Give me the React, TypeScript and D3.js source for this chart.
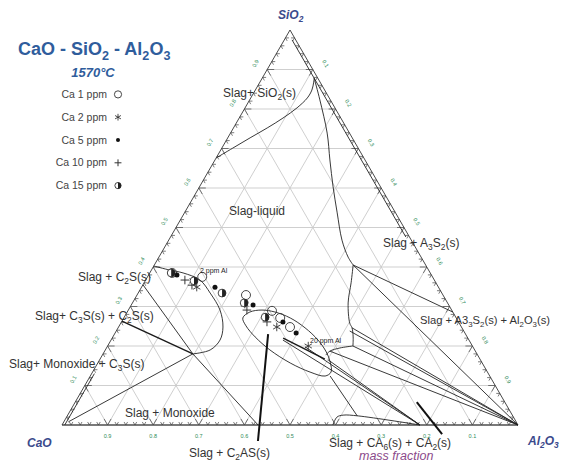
import React from 'react';
import * as d3 from 'd3';

// every composition is [Al2O3, SiO2] mass fraction, CaO = 1 - Al2O3 - SiO2
type P = [number, number];

const tickFractions = [0.1, 0.2, 0.3, 0.4, 0.5, 0.6, 0.7, 0.8, 0.9];
const legendLabels = ['Ca 1 ppm', 'Ca 2 ppm', 'Ca 5 ppm', 'Ca 10 ppm', 'Ca 15 ppm'];

// measured compositions (Ca content of the slag)
const ca1ppm: P[] = [[0.049, 0.385], [0.12, 0.375], [0.239, 0.329], [0.316, 0.289], [0.343, 0.271], [0.376, 0.248]];
const ca2ppm: P[] = [[0.105, 0.365], [0.121, 0.349], [0.248, 0.306], [0.347, 0.248], [0.44, 0.2]];
const ca5ppm: P[] = [[0.062, 0.38], [0.161, 0.349], [0.267, 0.304], [0.354, 0.261], [0.397, 0.233]];
const ca10ppm: P[] = [[0.086, 0.367], [0.108, 0.354], [0.26, 0.291], [0.319, 0.261]];
const ca15ppm: P[] = [[0.047, 0.385], [0.107, 0.365], [0.184, 0.334], [0.245, 0.309], [0.309, 0.273]];

// phase boundaries at 1570 C
const silicaLiquidus: P[] = [[0, 0.676], [0.024, 0.701], [0.049, 0.727], [0.074, 0.752], [0.096, 0.777], [0.114, 0.803], [0.124, 0.828], [0.124, 0.848], [0.118, 0.868], [0.114, 0.878]];
const silicaEdgeLine: P[] = [[0.017, 0.975], [0.516, 0.476]];
const mulliteLiquidus: P[] = [[0.114, 0.878], [0.154, 0.823], [0.212, 0.739], [0.252, 0.671], [0.293, 0.603], [0.335, 0.537], [0.38, 0.468], [0.415, 0.425], [0.436, 0.405]];
const aluminaLiquidus: P[] = [[0.436, 0.405], [0.454, 0.36], [0.473, 0.309], [0.502, 0.258], [0.513, 0.246], [0.527, 0.223], [0.538, 0.2]];
const hexaluminateBump: P[] = [[0.538, 0.2], [0.512, 0.195], [0.494, 0.187], [0.49, 0.177]];
const gehleniteLoop: P[] = [[0.261, 0.271], [0.269, 0.286], [0.293, 0.291], [0.324, 0.286], [0.365, 0.271], [0.41, 0.246], [0.454, 0.215], [0.487, 0.185], [0.508, 0.16], [0.523, 0.134], [0.515, 0.124], [0.477, 0.134], [0.422, 0.157], [0.361, 0.19], [0.312, 0.223], [0.278, 0.251]];
const dicalciumLiquidus: P[] = [[0, 0.4025], [0.041, 0.392], [0.073, 0.385], [0.119, 0.367], [0.158, 0.334], [0.201, 0.291], [0.229, 0.248], [0.239, 0.215], [0.23, 0.19], [0.197, 0.18]];
const ca2Pocket: P[] = [[0.594, 0], [0.593, 0.02], [0.604, 0.025], [0.638, 0.023], [0.785, 0]];
const limeEdgeLine: P[] = [[0.006, 0], [0.006, 0.13]];

const tieLines: P[][] = [
  [[0.436, 0.405], [0.714, 0.286]],
  [[0.436, 0.405], [1, 0]],
  [[0.513, 0.246], [1, 0]],
  [[0.512, 0.238], [1, 0]],
  [[0.538, 0.2], [1, 0]],
  [[0.494, 0.187], [1, 0]],
  [[0.377, 0.215], [0.785, 0]],
  [[0.434, 0.198], [0.785, 0]],
  [[0.501, 0.165], [0.785, 0]],
  [[0.526, 0.124], [0.636, 0.023]],
  [[0, 0.355], [0.197, 0.18]],
  [[0.197, 0.18], [0.01, 0.008]],
  [[0.197, 0.18], [0.43, 0]],
];
const mediumLines: P[][] = [
  [[0, 0.263], [0.197, 0.18]],
  [[0.375, 0.22], [0.493, 0.167]],
];
const leaderLines: P[][] = [
  [[0.337, 0.23], [0.45, -0.0405]],
  [[0.749, 0.058], [0.845, -0.023]],
];

const xs = d3.scaleLinear().domain([0, 1]).range([62, 518]);
const ys = d3.scaleLinear().domain([0, 1]).range([425, 30]);
const px = (p: P): [number, number] => [xs(p[0] + p[1] / 2), ys(p[1])];

const straight = d3.line<P>().x(d => px(d)[0]).y(d => px(d)[1]);
const smooth = d3.line<P>().x(d => px(d)[0]).y(d => px(d)[1]).curve(d3.curveCatmullRom);
const loop = d3.line<P>().x(d => px(d)[0]).y(d => px(d)[1]).curve(d3.curveCatmullRomClosed);

const FONT = '"Liberation Sans", Arial, sans-serif';

// "_x" -> x as subscript
function rich(str: string, fs: number) {
  const segs: { t: string; sub: boolean }[] = [];
  for (let i = 0; i < str.length; i++) {
    if (str[i] === '_') { segs.push({ t: str[i + 1], sub: true }); i++; }
    else {
      const last = segs[segs.length - 1];
      if (last && !last.sub) last.t += str[i];
      else segs.push({ t: str[i], sub: false });
    }
  }
  let shifted = false;
  return segs.map((s, k) => {
    const dy = s.sub ? (shifted ? 0 : fs * 0.28) : (shifted ? -fs * 0.28 : 0);
    shifted = s.sub;
    return <tspan key={k} dy={dy} fontSize={s.sub ? fs * 0.7 : fs}>{s.t}</tspan>;
  });
}

function Marker({ kind, x, y, small }: { kind: number; x: number; y: number; small?: boolean }) {
  const k = small ? 0.8 : 1;
  if (kind === 0) return <circle cx={x} cy={y} r={4.5 * k} fill="none" stroke="#333" strokeWidth={0.9} />;
  if (kind === 1) {
    const r = 4.2 * k;
    return (
      <g stroke="#333" strokeWidth={0.9}>
        {[90, 30, 150].map(a => {
          const dx = r * Math.cos((a * Math.PI) / 180), dy = r * Math.sin((a * Math.PI) / 180);
          return <line key={a} x1={x - dx} y1={y - dy} x2={x + dx} y2={y + dy} />;
        })}
      </g>
    );
  }
  if (kind === 2) return <circle cx={x} cy={y} r={2.5 * k} fill="#111" />;
  if (kind === 3) {
    const r = 4.3 * k;
    return (
      <g stroke="#333" strokeWidth={1}>
        <line x1={x - r} y1={y} x2={x + r} y2={y} />
        <line x1={x} y1={y - r} x2={x} y2={y + r} />
      </g>
    );
  }
  const r = 3.9 * k;
  return (
    <g>
      <circle cx={x} cy={y} r={r} fill="white" stroke="#333" strokeWidth={0.9} />
      <path d={`M${x},${y - r}A${r},${r} 0 0 1 ${x},${y + r}Z`} fill="#222" />
    </g>
  );
}

const phaseLabels = [
  { t: 'Slag+ SiO_2(s)', x: 223, y: 97, fs: 12 },
  { t: 'Slag-liquid', x: 229, y: 215, fs: 12 },
  { t: 'Slag + A_3S_2(s)', x: 383, y: 247, fs: 12 },
  { t: 'Slag + C_2S(s)', x: 78, y: 281, fs: 12 },
  { t: 'Slag+ C_3S(s) + C_2S(s)', x: 35, y: 320, fs: 12 },
  { t: 'Slag + A3_3S_2(s) + Al_2O_3(s)', x: 420, y: 324, fs: 11.2 },
  { t: 'Slag+ Monoxide + C_3S(s)', x: 9, y: 368, fs: 12 },
  { t: 'Slag + Monoxide', x: 125, y: 417, fs: 12 },
  { t: 'Slag + C_2AS(s)', x: 189, y: 457, fs: 12 },
  { t: 'Slag + CA_6(s) + CA_2(s)', x: 329, y: 447, fs: 12 },
];

export default function App() {
  const series = [ca1ppm, ca2ppm, ca5ppm, ca10ppm, ca15ppm];

  const grid: P[][] = [];
  tickFractions.forEach(v => {
    grid.push([[0, v], [1 - v, v]]);
    grid.push([[v, 0], [v, 1 - v]]);
    grid.push([[1 - v, 0], [0, 1 - v]]);
  });

  // edge ticks every 0.02, along the two grid directions into the triangle
  const ticks: { x: number; y: number; dirs: [number, number][]; major: boolean }[] = [];
  const c = Math.cos(Math.PI / 3), s = Math.sin(Math.PI / 3);
  for (let i = 1; i < 50; i++) {
    const t = i * 0.02, major = i % 5 === 0;
    const b = px([t, 0]), l = px([0, t]), r = px([1 - t, t]);
    ticks.push({ x: b[0], y: b[1], dirs: [[c, -s], [-c, -s]], major });
    ticks.push({ x: l[0], y: l[1], dirs: [[1, 0], [c, s]], major });
    ticks.push({ x: r[0], y: r[1], dirs: [[-1, 0], [-c, s]], major });
  }

  const corners = [px([0, 0]), px([1, 0]), px([0, 1])];

  return (
    <div style={{ position: 'absolute', left: 0, top: 0 }}>
      <svg width={565} height={462} style={{ display: 'block', background: 'white' }} fontFamily={FONT}>
        {grid.map((g, i) => (
          <path key={i} d={straight(g) || ''} stroke="#c9c9c9" strokeWidth={0.9} fill="none" />
        ))}

        <line x1={corners[0][0]} y1={corners[0][1]} x2={corners[1][0]} y2={corners[1][1]} stroke="#7a7a7a" strokeWidth={1.8} />
        <line x1={corners[0][0]} y1={corners[0][1]} x2={corners[2][0]} y2={corners[2][1]} stroke="#333" strokeWidth={0.9} />
        <line x1={corners[1][0]} y1={corners[1][1]} x2={corners[2][0]} y2={corners[2][1]} stroke="#333" strokeWidth={0.9} />

        {ticks.map((t, i) =>
          t.dirs.map((d, j) => {
            const len = t.major ? 7 : 3.5;
            return <line key={i + '-' + j} x1={t.x} y1={t.y} x2={t.x + d[0] * len} y2={t.y + d[1] * len} stroke="#444" strokeWidth={0.7} />;
          })
        )}

        {tickFractions.map(v => {
          const b = px([1 - v, 0]), l = px([0, v]), r = px([v, 1 - v]);
          const lab = v.toFixed(1);
          return (
            <g key={v} fill="#2e8b57" fontSize={5.5} textAnchor="middle">
              <text x={b[0]} y={b[1] + 13}>{lab}</text>
              <text transform={`translate(${l[0] - 10},${l[1] - 5}) rotate(-60)`}>{lab}</text>
              <text transform={`translate(${r[0] + 11},${r[1] - 5}) rotate(60)`}>{lab}</text>
            </g>
          );
        })}

        <g fill="none" stroke="#222" strokeWidth={0.9}>
          <path d={smooth(silicaLiquidus) || ''} />
          <path d={straight(silicaEdgeLine) || ''} />
          <path d={smooth(mulliteLiquidus) || ''} />
          <path d={smooth(aluminaLiquidus) || ''} />
          <path d={smooth(hexaluminateBump) || ''} />
          <path d={loop(gehleniteLoop) || ''} />
          <path d={smooth(dicalciumLiquidus) || ''} />
          <path d={smooth(ca2Pocket) || ''} />
          <path d={straight(limeEdgeLine) || ''} />
          {tieLines.map((t, i) => <path key={i} d={straight(t) || ''} />)}
        </g>
        <g fill="none" stroke="#1a1a1a" strokeWidth={1.4}>
          {mediumLines.map((t, i) => <path key={i} d={straight(t) || ''} />)}
        </g>
        <g fill="none" stroke="#111" strokeWidth={2}>
          {leaderLines.map((t, i) => <path key={i} d={straight(t) || ''} />)}
        </g>

        {series.map((pts, k) =>
          pts.map((p, i) => {
            const [x, y] = px(p);
            return <Marker key={k + '-' + i} kind={k} x={x} y={y} />;
          })
        )}

        <text x={200} y={273} fontSize={7} fill="#222">2 ppm Al</text>
        <text x={310} y={343} fontSize={7} fill="#222">20 ppm Al</text>

        {phaseLabels.map((l, i) => (
          <text key={i} x={l.x} y={l.y} fontSize={l.fs} fill="#333">{rich(l.t, l.fs)}</text>
        ))}

        <text x={18} y={55} fontSize={18} fontWeight="bold" fill="#2f5d9c">{rich('CaO - SiO_2 - Al_2O_3', 18)}</text>
        <text x={93} y={77} fontSize={13} fontWeight="bold" fontStyle="italic" fill="#2f5d9c" textAnchor="middle">1570°C</text>

        {legendLabels.map((lab, i) => {
          const y = 98 + i * 22.8;
          return (
            <g key={lab}>
              <text x={107} y={y} fontSize={10.5} fill="#444" textAnchor="end">{lab}</text>
              <Marker kind={i} x={118} y={y - 3.6} small />
            </g>
          );
        })}

        <g fontSize={12} fontWeight="bold" fontStyle="italic" fill="#3b4a8c">
          <text x={278} y={19}>{rich('SiO_2', 12)}</text>
          <text x={27} y={447}>CaO</text>
          <text x={528} y={445}>{rich('Al_2O_3', 12)}</text>
        </g>
        <text x={359} y={460} fontSize={12.5} fontStyle="italic" fill="#8b4a8b">mass fraction</text>
      </svg>
    </div>
  );
}
